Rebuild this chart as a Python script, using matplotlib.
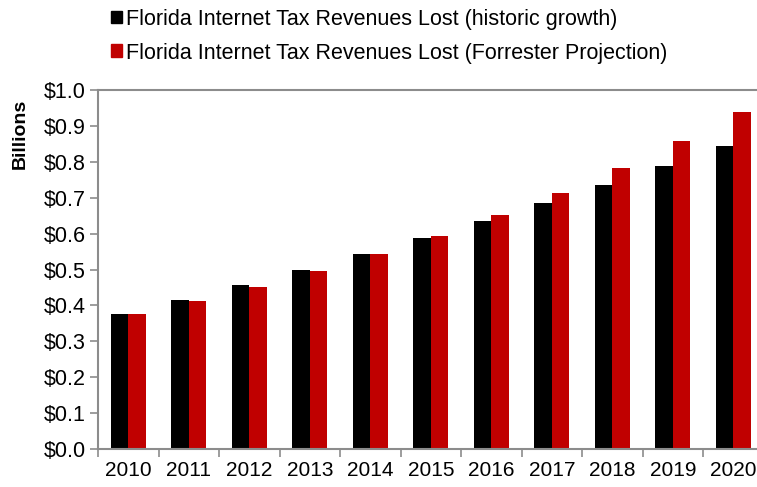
import numpy as np
import matplotlib.pyplot as plt
from matplotlib.patches import Patch

plt.rcParams['font.family'] = ['Liberation Sans', 'DejaVu Sans']

# Values (billions of dollars)
years = ['2010', '2011', '2012', '2013', '2014', '2015',
         '2016', '2017', '2018', '2019', '2020']
historic = [0.376, 0.415, 0.456, 0.499, 0.543, 0.587,
            0.635, 0.684, 0.735, 0.788, 0.844]
forrester = [0.376, 0.411, 0.451, 0.495, 0.543, 0.594,
             0.652, 0.713, 0.782, 0.857, 0.939]
labels = ['Florida Internet Tax Revenues Lost (historic growth)',
          'Florida Internet Tax Revenues Lost (Forrester Projection)']

BLACK = '#000000'
RED = '#c00000'
SPINE = '#8c8c8c'

fig = plt.figure(figsize=(7.57, 4.87), dpi=100)
# the plot runs a little past the right edge of the picture, as in the original
ax = fig.add_axes([98 / 757, 38 / 487, 665.5 / 757, 359 / 487])

x = np.arange(len(years))
w = 0.29
ax.bar(x - w / 2, historic, w, color=BLACK)
ax.bar(x + w / 2, forrester, w, color=RED)

ax.set_xlim(-0.5, len(years) - 0.5)
ax.set_ylim(0, 1.0)
ax.set_yticks(np.arange(0, 1.01, 0.1))
ax.set_yticklabels(['${:.1f}'.format(v) for v in np.arange(0, 1.01, 0.1)])
ax.set_xticks(np.arange(-0.5, len(years), 1.0), minor=True)
ax.set_xticks(x)
ax.set_xticklabels(years)
ax.tick_params(axis='x', which='major', length=0, pad=9, labelsize=15)
ax.tick_params(axis='x', which='minor', length=6, color=SPINE, width=1.2)
ax.tick_params(axis='y', length=6, color=SPINE, width=1.2, labelsize=15.5, pad=3)

for side in ['left', 'top', 'bottom']:
    ax.spines[side].set_color(SPINE)
    ax.spines[side].set_linewidth(1.5)
ax.spines['right'].set_visible(False)

fig.text(20 / 757, 1 - 134 / 487, 'Billions', rotation=90, fontsize=14,
         fontweight='bold', ha='center', va='center')

handles = [Patch(color=BLACK), Patch(color=RED)]
fig.legend(handles, labels, loc='upper left', bbox_to_anchor=(102 / 757, 1.0),
           frameon=False, fontsize=15.5, handlelength=0.55, handleheight=0.55,
           handletextpad=0.15, labelspacing=0.6, borderaxespad=0.0)

plt.savefig('out.png', dpi=100)
